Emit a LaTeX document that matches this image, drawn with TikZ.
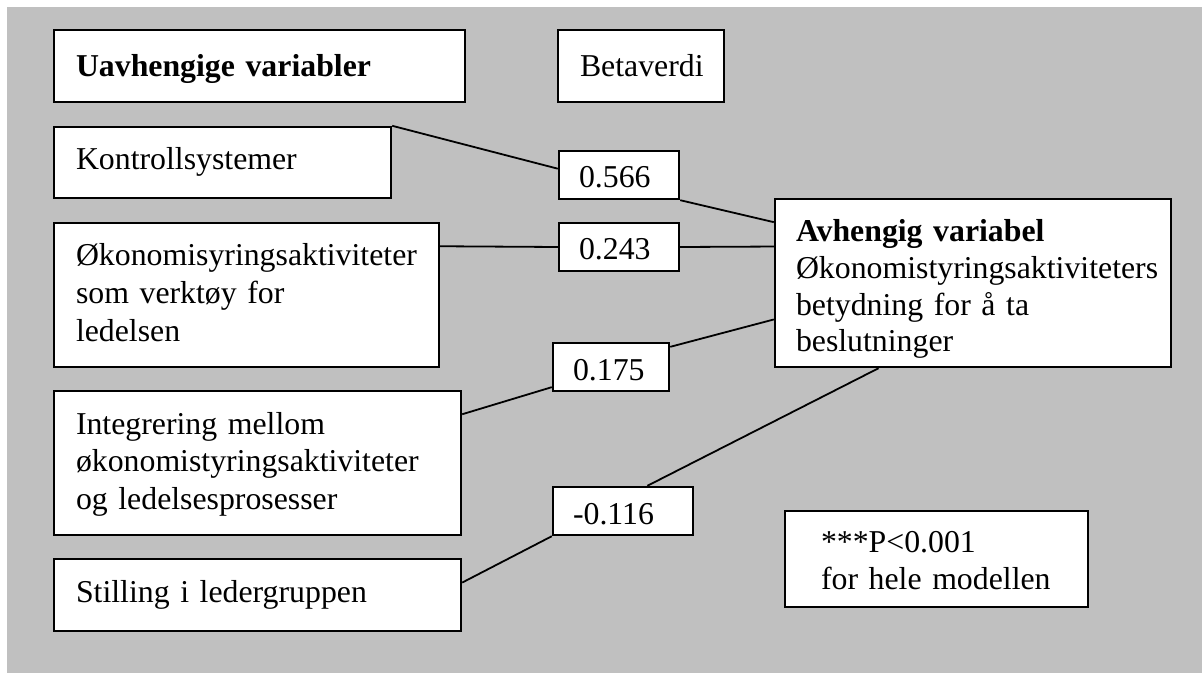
\documentclass[tikz,border=0pt]{standalone}
\usepackage{fontspec}
\setmainfont{Liberation Serif}
\usetikzlibrary{calc}
\definecolor{panel}{RGB}{192,192,192}
\begin{document}
\hyphenpenalty=10000
\exhyphenpenalty=10000
\begin{tikzpicture}[x=0.5pt,y=-0.5pt,
  txt/.style={font=\fontsize{15.9}{18.75}\selectfont},
  % text sits at the top of each box: first baseline a fixed distance below the upper edge
  box/.style={txt, draw, fill=white, line width=1.2pt, inner ysep=0pt,
    inner xsep=11pt, align=left, anchor=center, text height=21.5pt},
  val/.style={box, inner xsep=10pt, text height=18.5pt, text depth=5.5pt},
  link/.style={line width=0.9pt}]
  % page and grey panel
  \fill[white] (0,0) rectangle (1202,673);
  \fill[panel] (7,7) rectangle (1202,673);
  \useasboundingbox (0,0) rectangle (1202,673);

  % header boxes
  \node[box, text width=183.5pt, text height=23.5pt, text depth=12.5pt] (head) at (259.5,66) {\textbf{Uavhengige variabler}};
  \node[box, text width=61pt, text height=23.5pt, text depth=12.5pt] (beta) at (641,66) {Betaverdi};

  % independent variables
  \node[box, text width=146.5pt, text depth=14pt] (kontroll) at (222.5,162.5) {Kontrollsystemer};
  \node[box, text width=170.5pt, text depth=50.5pt] (verktoy) at (246.5,295)
        {Økonomisyringsaktiviteter\\som verktøy for\\ledelsen};
  \node[box, text width=181.5pt, text depth=50.5pt] (integr) at (257.5,463)
        {Integrering mellom\\økonomistyringsaktiviteter\\og ledelsesprosesser};
  \node[box, text width=181.5pt, text depth=14.5pt] (stilling) at (257.5,595) {Stilling i ledergruppen};

  % beta values
  \node[val, text width=40pt] (b1) at (619,175) {0.566};
  \node[val, text width=40pt] (b2) at (619,247) {0.243};
  \node[val, text width=38pt] (b3) at (611,367) {0.175};
  \node[val, text width=50pt] (b4) at (623,511) {-0.116};

  % dependent variable
  \node[box, inner xsep=10.5pt, text width=177pt, text depth=62.5pt,
        font=\fontsize{15.9}{18.3}\selectfont] (dep) at (973,283)
        {\textbf{Avhengig variabel}\\Økonomistyringsaktiviteters\\betydning for å ta\\beslutninger};

  % significance note
  \node[box, inner xsep=18pt, text width=115.5pt, text height=20.5pt, text depth=27.5pt] (sig) at (936.5,559)
        {***P<0.001\\for hele modellen};

  % connectors
  \draw[link] (kontroll.north east) -- ($(b1.north west)!0.375!(b1.south west)$);
  \draw[link] (b1.south east) -- ($(dep.north west)!0.143!(dep.south west)$);

  \draw[link] ($(verktoy.north east)!0.167!(verktoy.south east)$) -- (b2.west);
  \draw[link] (b2.east) -- ($(dep.north west)!0.286!(dep.south west)$);

  \draw[link] ($(integr.north east)!0.167!(integr.south east)$) -- ($(b3.north west)!0.9!(b3.south west)$);
  \draw[link] ($(b3.north east)!0.1!(b3.south east)$) -- ($(dep.north west)!0.714!(dep.south west)$);

  \draw[link] ($(stilling.north east)!0.333!(stilling.south east)$) -- (b4.south west);
  \draw[link] ($(b4.north west)!0.671!(b4.north east)$) -- ($(dep.south west)!0.263!(dep.south east)$);
\end{tikzpicture}
\end{document}
